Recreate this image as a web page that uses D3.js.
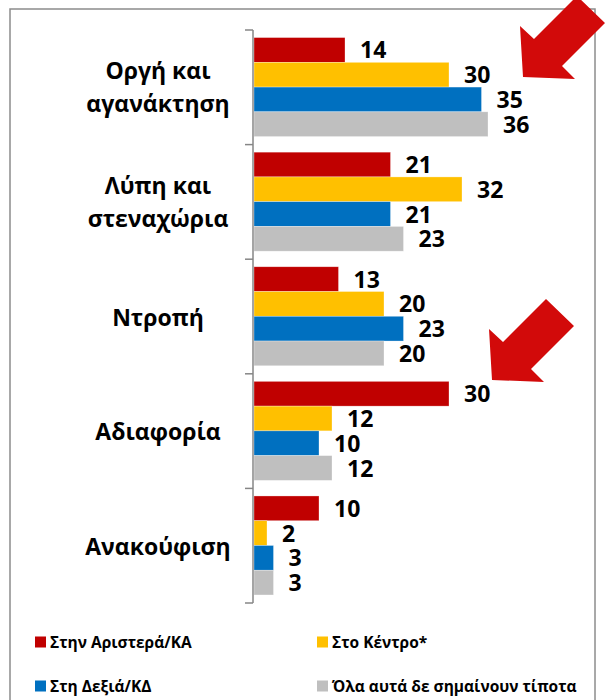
<!DOCTYPE html>
<html>
<head>
<meta charset="utf-8">
<script src="https://cdn.jsdelivr.net/npm/d3@7"></script>
<style>
  html, body { margin: 0; padding: 0; background: #fff; }
  svg { display: block; }
  text { font-family: "Open Sans", "Noto Sans", sans-serif; font-weight: bold; fill: #000; }
</style>
</head>
<body>
<svg id="chart" width="607" height="700"></svg>
<script>
// ---- data ----
const categories = [["Οργή και", "αγανάκτηση"], ["Λύπη και", "στεναχώρια"], ["Ντροπή"], ["Αδιαφορία"], ["Ανακούφιση"]];
const seriesNames = ["Στην Αριστερά/ΚΑ", "Στο Κέντρο*", "Στη Δεξιά/ΚΔ", "Όλα αυτά δε σημαίνουν τίποτα"];
const seriesColors = ["#C00000", "#FFC000", "#0070C0", "#BFBFBF"];
const left   = [14, 21, 13, 30, 10];
const centre = [30, 32, 20, 12, 2];
const right  = [35, 21, 23, 10, 3];
const none   = [36, 23, 20, 12, 3];
const seriesValues = [left, centre, right, none];
const arrowCategories = [0, 3]; // arrows point at these groups

const svg = d3.select("#chart");
const W = 607, H = 700;

// frame
svg.append("rect").attr("x", 10).attr("y", 9).attr("width", 585).attr("height", 720)
  .attr("fill", "none").attr("stroke", "#8c8c8c").attr("stroke-width", 1.5);

const catIdx = categories.map((d, i) => i);
const y = d3.scaleBand().domain(catIdx).range([30, 603]).paddingInner(0).paddingOuter(0);
const ySub = d3.scaleBand().domain(d3.range(seriesNames.length))
  .range([y.bandwidth() * 0.066, y.bandwidth() * 0.93]);
const x = d3.scaleLinear().domain([0, 40]).range([254, 514]);

// bars
seriesValues.forEach((vals, s) => {
  svg.append("g").selectAll("rect").data(vals).join("rect")
    .attr("x", x(0))
    .attr("y", (d, i) => y(i) + ySub(s))
    .attr("width", d => x(d) - x(0))
    .attr("height", ySub.bandwidth())
    .attr("fill", seriesColors[s])
    .attr("stroke", "rgba(255,255,255,0.5)").attr("stroke-width", 0.6);
  svg.append("g").selectAll("text").data(vals).join("text")
    .attr("x", d => x(d) + 15)
    .attr("y", (d, i) => y(i) + ySub(s) + ySub.bandwidth() / 2 + 8.5)
    .attr("font-size", 23)
    .text(d => d);
});

// axis (vertical with tick marks at band boundaries)
const axisG = svg.append("g");
axisG.append("line").attr("x1", 253).attr("x2", 253).attr("y1", y.range()[0]).attr("y2", y.range()[1])
  .attr("stroke", "#868686").attr("stroke-width", 1.5);
const boundaries = catIdx.map(i => y(i)).concat([y.range()[1]]);
axisG.selectAll("line.tick").data(boundaries).join("line").attr("class", "tick")
  .attr("x1", 245).attr("x2", 253).attr("y1", d => d).attr("y2", d => d)
  .attr("stroke", "#868686").attr("stroke-width", 1.5);

// category labels
categories.forEach((lines, i) => {
  const cy = y(i) + y.bandwidth() / 2;
  const t = svg.append("text").attr("text-anchor", "middle").attr("font-size", 23);
  if (lines.length === 2) {
    t.append("tspan").attr("x", 158).attr("y", cy - 8).text(lines[0]);
    t.append("tspan").attr("x", 158).attr("y", cy + 25).text(lines[1]);
  } else {
    t.append("tspan").attr("x", 158).attr("y", cy + 9).text(lines[0]);
  }
});

// red arrows
const arrowShape = [[0,0],[-3,-51],[11,-38],[54,-81],[82,-54],[39,-11],[52,2]];
const arrowTips = [[523, 77], [492, 380]];
arrowTips.forEach(([tx, ty]) => {
  svg.append("polygon")
    .attr("points", arrowShape.map(([px, py]) => (tx + px) + "," + (ty + py)).join(" "))
    .attr("fill", "#D20A0A");
});

// legend
const legendPos = [[35, 648], [317, 648], [35, 692], [317, 692]];
seriesNames.forEach((name, s) => {
  const [lx, ly] = legendPos[s];
  svg.append("rect").attr("x", lx).attr("y", ly - 11.5).attr("width", 11).attr("height", 11)
    .attr("fill", seriesColors[s]);
  svg.append("text").attr("x", lx + 15).attr("y", ly).attr("font-size", 15.5).text(name);
});
</script>
</body>
</html>
